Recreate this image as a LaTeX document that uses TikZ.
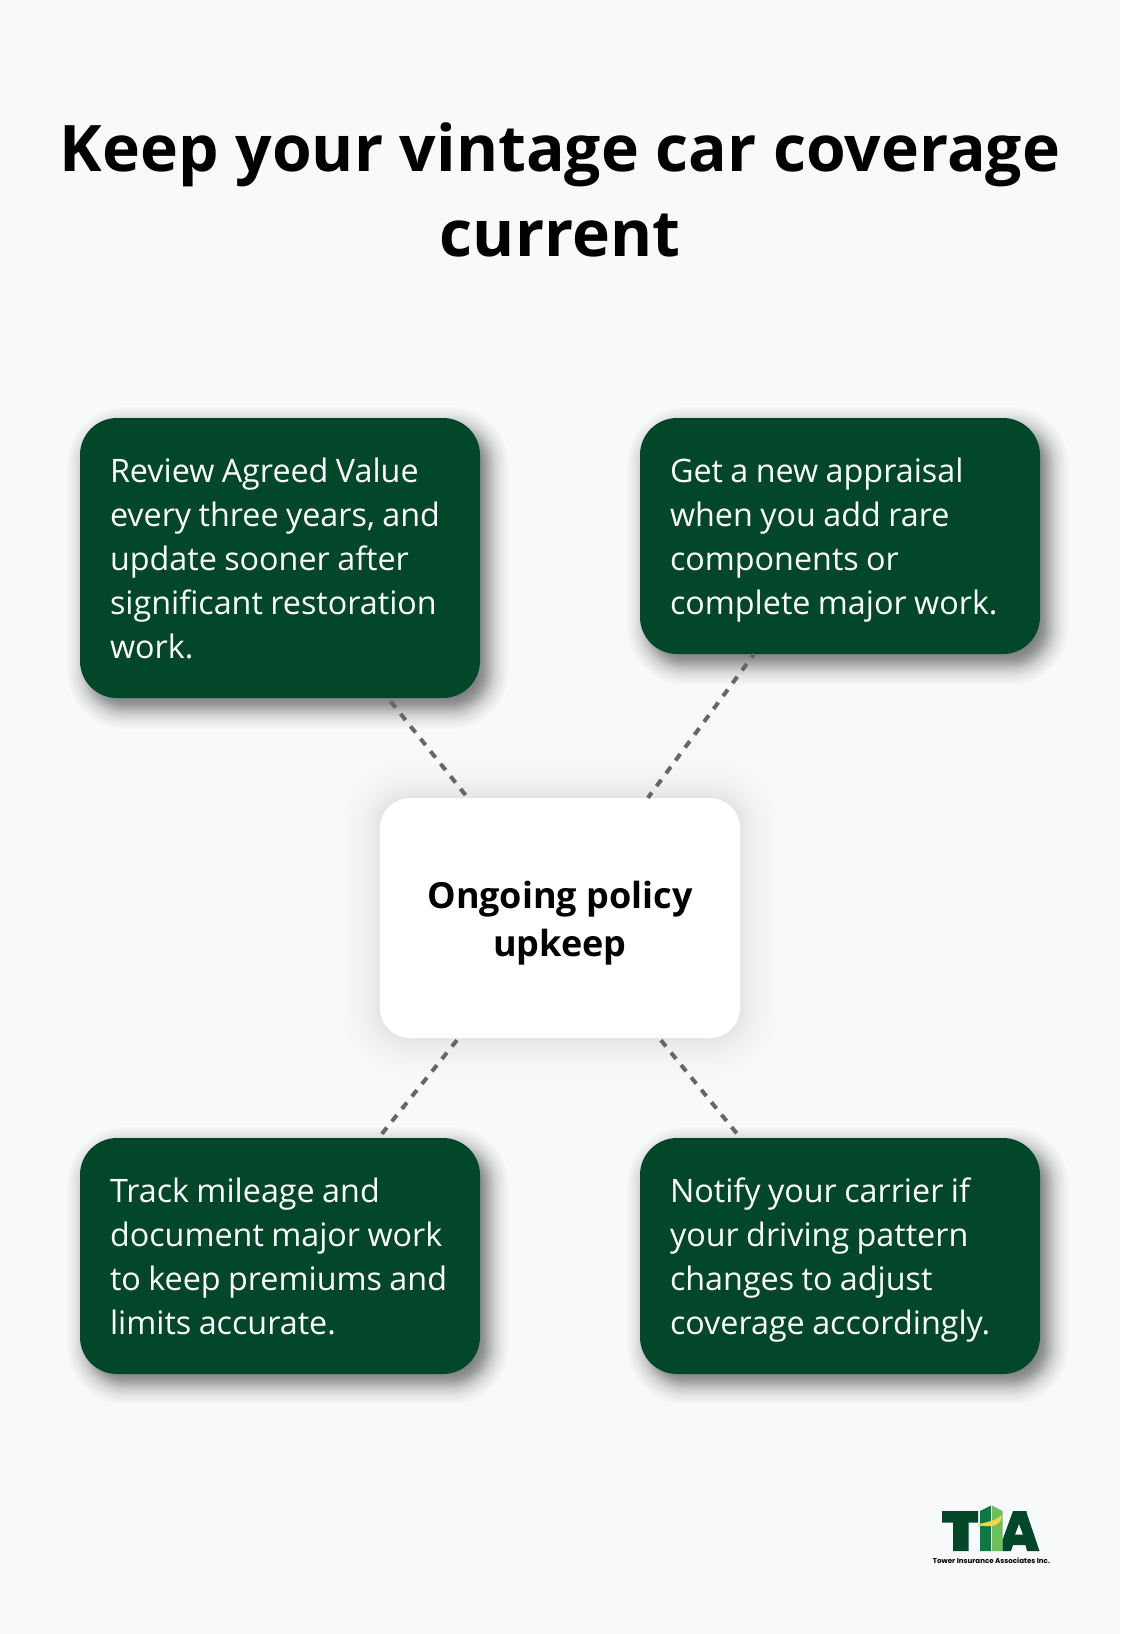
\documentclass[tikz,border=0pt]{standalone}
\usepackage{fontspec}
\setmainfont{Open Sans}
\newfontfamily\logofont{Poppins}
\usetikzlibrary{calc}
\definecolor{pagebg}{HTML}{F8F9FB}
\definecolor{deepgreen}{HTML}{024729}
\definecolor{midgreen}{HTML}{0A7A3E}
\definecolor{lightgreen}{HTML}{6CC05A}
\definecolor{swoosh}{HTML}{F3D548}
\definecolor{dashgrey}{HTML}{666666}
\newcommand{\softshadow}[8]{% x1 y1 x2 y2 radius spread opacity-per-layer steps
  \foreach \i in {0,...,#8}{
    \pgfmathsetmacro{\tv}{2*\i/#8-1}
    \pgfmathsetmacro{\dd}{#6*(0.5*\tv+0.5*\tv*\tv*\tv)}
    \pgfmathsetmacro{\rr}{max(#5+\dd,2)}
    \fill[black,opacity=#7,rounded corners=\rr pt] (#1-\dd,#2-\dd) rectangle (#3+\dd,#4+\dd);
  }}
\newcommand{\gtop}{\spaceskip=0.23em\relax\rule{0pt}{33pt}}
\newcommand{\gbot}{\rule[-9pt]{0pt}{1pt}}
\tikzset{
  greenbox/.style={fill=deepgreen,rounded corners=37pt,text=white,minimum width=400pt,
    inner xsep=30pt,inner ysep=0pt,align=left,text width=340pt,
    font=\fontsize{32.3pt}{44pt}\selectfont},
  centerbox/.style={fill=white,rounded corners=30pt,minimum width=360pt,minimum height=240pt,
    align=center,text=black,font=\fontsize{36pt}{48pt}\selectfont\bfseries},
  titletext/.style={align=center,text=black,font=\fontsize{64.2pt}{85pt}\selectfont\bfseries,inner sep=0pt},
  link/.style={draw=dashgrey,line width=4pt,dash pattern=on 8pt off 8pt}
}
\begin{document}
\begin{tikzpicture}[x=1pt,y=-1pt]
\fill[pagebg] (0,0) rectangle (1120,1634);
\useasboundingbox (0,0) rectangle (1120,1634);
% shadows
\softshadow{88}{428}{488}{708}{37}{21}{0.014}{40}
\softshadow{648}{428}{1048}{664}{37}{21}{0.014}{40}
\softshadow{88}{1148}{488}{1383}{37}{21}{0.014}{40}
\softshadow{648}{1148}{1048}{1383}{37}{21}{0.014}{40}
\softshadow{380}{798}{740}{1038}{30}{40}{0.0055}{40}
% title
\node[titletext] (title) at (560,190) {Keep your vintage car coverage\\current};
% boxes
\node[greenbox,minimum height=280pt] (tl) at (280,558) {\gtop Review Agreed Value\\every three years, and\\update sooner after\\significant restoration\\work.\gbot};
\node[greenbox,minimum height=236pt] (tr) at (840,536) {\gtop Get a new appraisal\\when you add rare\\components or\\complete major work.\gbot};
\node[greenbox,minimum height=236pt] (bl) at (280,1256) {\gtop Track mileage and\\document major work\\\mbox{to keep premiums and}\\limits accurate.\gbot};
\node[greenbox,minimum height=236pt] (br) at (840,1256) {\gtop Notify your carrier if\\your driving pattern\\changes to adjust\\coverage accordingly.\gbot};
\node[centerbox] (ctr) at (560,918) {\rule{0pt}{39pt}Ongoing policy\\upkeep\rule[-10pt]{0pt}{1pt}};
% connectors
\draw[link,dash phase=12pt] ($(tl.south west)!0.77!(tl.south east)$) -- ($(ctr.north west)!0.244!(ctr.north east)$);
\draw[link,dash phase=4pt] ($(tr.south west)!0.285!(tr.south east)$) -- ($(ctr.north west)!0.744!(ctr.north east)$);
\draw[link] ($(ctr.south west)!0.214!(ctr.south east)+(0,2)$) -- ($(bl.north west)!0.7525!(bl.north east)+(0,-3)$);
\draw[link] ($(ctr.south west)!0.78!(ctr.south east)+(0,2)$) -- ($(br.north west)!0.245!(br.north east)+(0,-3)$);
% logo
\fill[deepgreen] (942,1511) -- (978,1511) -- (978,1522.5) -- (968.5,1522.5) -- (968.5,1551) -- (953,1551) -- (953,1522.5) -- (942,1522.5) -- cycle;
\fill[midgreen] (980,1511) -- (991,1505.5) -- (991,1551) -- (980,1551) -- cycle;
\fill[lightgreen] (992,1505.5) -- (1002.5,1511) -- (1002.5,1551) -- (992,1551) -- cycle;
\fill[deepgreen,even odd rule] (1013,1511) -- (1026,1511) -- (1039.5,1551) -- (1027,1551) -- (1025.5,1545) -- (1013,1545) -- (1011,1551) -- (1002.5,1551) -- (1002.5,1540) -- cycle
  (1019,1524) -- (1015,1534.5) -- (1023,1534.5) -- cycle;
\fill[swoosh] (978,1524) .. controls (990,1522) and (998,1519) .. (1002,1515) .. controls (1001,1527) and (992,1527) .. (978,1525.5) -- cycle;
\node[inner sep=0pt,font=\fontsize{2.8pt}{3pt}\selectfont,text=deepgreen] (reg) at (1026.5,1512.5) {®};
\node[inner sep=0pt,font=\logofont\fontsize{7.1pt}{8pt}\selectfont\bfseries,text=black] (tagline) at (991.5,1560.5) {Tower Insurance Associates Inc.};
\end{tikzpicture}
\end{document}
